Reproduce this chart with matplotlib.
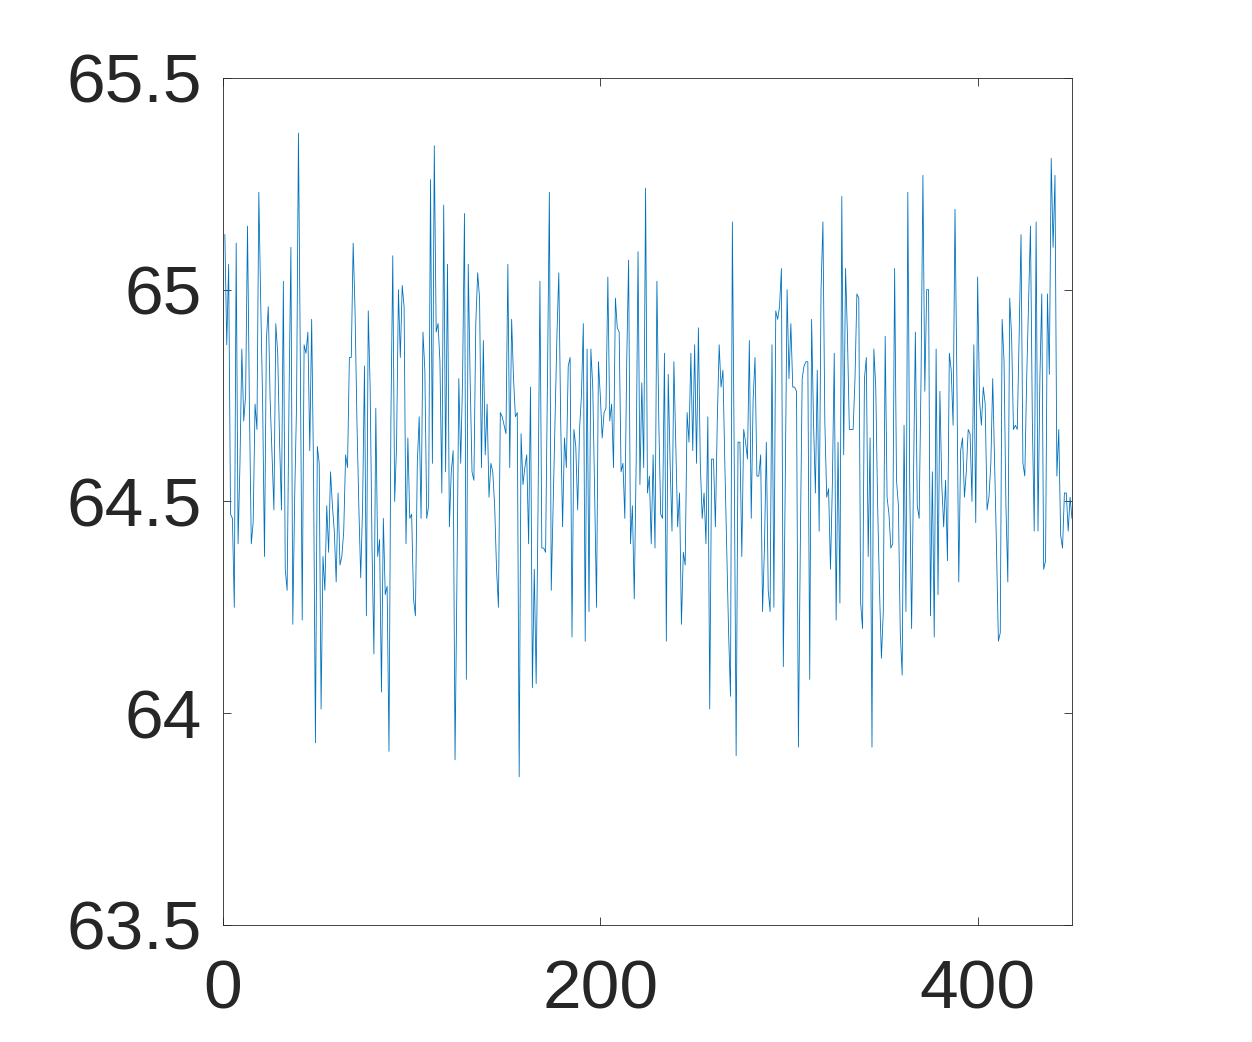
import numpy as np
import matplotlib
matplotlib.use("Agg")
import matplotlib.pyplot as plt

seg01 = [65.13, 64.87, 65.06, 64.47, 64.46, 64.25, 65.11, 64.40, 64.59, 64.86, 64.69, 64.75,
         65.15, 64.73, 64.40, 64.45, 64.73, 64.67, 65.23, 64.97, 64.74, 64.37, 64.88, 64.96,
         64.74, 64.61, 64.48, 64.92, 64.85, 64.64, 64.48, 65.02, 64.34, 64.29, 64.74, 65.10]
seg02 = [64.21, 64.51, 64.73, 65.37, 64.83, 64.22, 64.87, 64.85, 64.90, 64.62, 64.93, 64.57,
         63.93, 64.63, 64.59, 64.01, 64.37, 64.29, 64.49, 64.38, 64.57, 64.49, 64.43, 64.31,
         64.52, 64.35, 64.37, 64.43, 64.61, 64.58, 64.84, 64.84, 65.11, 64.95, 64.69, 64.49, 64.32]
seg03 = [64.49, 64.82, 64.23, 64.95, 64.77, 64.39, 64.14, 64.72, 64.37, 64.41, 64.05, 64.46,
         64.28, 64.30, 63.91, 64.69, 65.08, 64.50, 64.63, 65.00, 64.84, 65.01, 64.96, 64.40,
         64.65, 64.46, 64.47, 64.27, 64.23, 64.59, 64.70, 64.46, 64.90, 64.81, 64.46, 64.49, 65.26]
seg04 = [64.59, 65.34, 64.90, 64.92, 64.83, 64.52, 65.20, 64.57, 65.06, 64.44, 64.57, 64.62,
         63.89, 64.31, 64.79, 64.59, 64.79, 65.18, 64.08, 65.06, 64.79, 64.57, 64.55, 64.92,
         65.04, 64.98, 64.58, 64.88, 64.61, 64.73, 64.51, 64.59, 64.57, 64.49, 64.34, 64.25, 64.71]
seg05 = [64.70, 64.68, 64.66, 65.06, 64.58, 64.93, 64.79, 64.70, 64.71, 63.85, 64.66, 64.54,
         64.58, 64.61, 64.40, 64.77, 64.06, 64.34, 64.07, 64.49, 65.02, 64.39, 64.39, 64.38,
         64.79, 65.23, 64.29, 64.49, 64.69, 64.89, 65.04, 64.69, 64.44, 64.65, 64.58, 64.82, 64.84]
seg06 = [64.18, 64.67, 64.63, 64.48, 64.67, 64.75, 64.92, 64.17, 64.86, 64.24, 64.86, 64.77,
         64.52, 64.25, 64.83, 64.75, 64.65, 64.71, 64.72, 65.03, 64.69, 64.73, 64.58, 64.98,
         64.91, 64.90, 64.57, 64.59, 64.46, 64.83, 65.07, 64.40, 64.49, 64.27, 64.59, 65.09, 64.54]
seg07 = [64.78, 64.58, 65.24, 64.52, 64.56, 64.40, 64.61, 64.39, 65.02, 64.69, 64.47, 64.46,
         64.85, 64.17, 64.80, 64.59, 64.43, 64.83, 64.64, 64.44, 64.52, 64.21, 64.38, 64.35,
         64.71, 64.64, 64.85, 64.62, 64.87, 64.59, 64.91, 64.59, 64.46, 64.52, 64.40, 64.70, 64.01]
seg08 = [64.60, 64.60, 64.44, 64.69, 64.87, 64.77, 64.81, 64.59, 64.39, 64.19, 64.04, 65.16,
         64.59, 63.90, 64.64, 64.64, 64.37, 64.67, 64.64, 64.60, 64.88, 64.46, 64.74, 64.84,
         64.56, 64.56, 64.61, 64.24, 64.39, 64.64, 64.29, 64.24, 64.87, 64.25, 64.95, 64.93, 64.96]
seg09 = [65.05, 64.11, 64.53, 65.00, 64.79, 64.92, 64.77, 64.77, 64.76, 63.92, 64.39, 64.79,
         64.82, 64.83, 64.83, 64.08, 64.93, 64.69, 64.52, 64.81, 64.43, 65.00, 65.16, 64.69,
         64.51, 64.53, 64.34, 64.54, 64.85, 64.22, 64.64, 64.26, 65.22, 64.61, 65.05, 64.89, 64.67]
seg10 = [64.67, 64.67, 64.79, 64.99, 64.98, 64.26, 64.20, 64.79, 64.84, 64.37, 64.65, 63.92,
         64.86, 64.77, 64.49, 64.29, 64.13, 64.24, 64.89, 64.51, 64.47, 64.39, 64.40, 65.05,
         64.55, 64.49, 64.19, 64.09, 64.68, 64.24, 65.23, 64.54, 64.20, 64.54, 64.90, 64.49, 64.46]
seg11 = [64.79, 65.27, 64.76, 65.00, 65.00, 64.23, 64.57, 64.18, 64.86, 64.28, 64.76, 64.54,
         64.44, 64.55, 64.36, 64.85, 64.81, 64.68, 65.19, 64.79, 64.31, 64.62, 64.65, 64.51,
         64.57, 64.67, 64.66, 64.50, 64.87, 64.45, 65.03, 64.74, 64.68, 64.77, 64.73, 64.48, 64.51]
seg12 = [64.59, 64.79, 64.59, 64.39, 64.17, 64.19, 64.93, 64.83, 64.49, 64.31, 64.98, 64.89,
         64.67, 64.68, 64.67, 64.89, 65.13, 64.59, 64.56, 64.79, 64.97, 65.15, 64.69, 64.43,
         65.16, 64.43, 64.79, 64.99, 64.34, 64.36, 64.99, 64.80, 65.31, 65.10, 65.27, 64.56,
         64.67, 64.42, 64.39, 64.52, 64.52, 64.43, 64.51, 64.46]

y_values = np.array(seg01 + seg02 + seg03 + seg04 + seg05 + seg06 + seg07 + seg08 +
                    seg09 + seg10 + seg11 + seg12)
x_values = np.arange(1, len(y_values) + 1)

x_ticks = [0, 200, 400]
y_ticks = [63.5, 64, 64.5, 65, 65.5]
y_tick_labels = ["63.5", "64", "64.5", "65", "65.5"]

plt.rcParams['font.family'] = ['Liberation Sans', 'DejaVu Sans']

fig = plt.figure(figsize=(12.52, 10.42), dpi=100)
ax = fig.add_axes([0.1781, 0.1123, 0.6781, 0.8129])
ax.plot(x_values, y_values, color='#0072BD', linewidth=0.6)
ax.set_xlim(0, 450)
ax.set_ylim(63.5, 65.5)
ax.set_xticks(x_ticks)
ax.set_xticklabels([str(t) for t in x_ticks])
ax.set_yticks(y_ticks)
ax.set_yticklabels(y_tick_labels)

axis_color = '#262626'
for s in ax.spines.values():
    s.set_color(axis_color)
    s.set_linewidth(0.6)
ax.tick_params(axis='both', direction='in', length=6, width=0.6, color=axis_color,
               labelcolor=axis_color, labelsize=50, top=True, right=True)
ax.tick_params(axis='y', pad=15)
ax.tick_params(axis='x', pad=24)

fig.savefig('out.png', dpi=100, facecolor='white')
